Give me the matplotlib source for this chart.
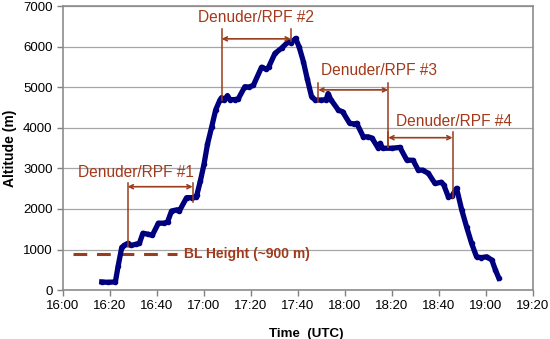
"""Aircraft altitude profile with denuder/RPF sampling periods."""

import matplotlib.pyplot as plt

plt.rcParams["font.family"] = ["Liberation Sans", "DejaVu Sans"]

# flight track: minutes after 16:00 UTC, altitude (m)
MINUTES = [16.5, 19, 22.3, 23.5, 25, 26, 27.5, 29, 31, 32.5, 34, 36, 38, 40.6,
           43, 44.5, 46.2, 48.5, 49.5, 52.6, 55, 56.5, 57, 58.5, 60, 61.5, 63.3,
           65, 66.8, 67.5, 68.5, 70, 71, 73, 74.6, 77.4, 79, 81, 84.5, 86.5,
           87.5, 90.2, 93, 95.9, 97, 99, 100.5, 102.3, 104, 105.8, 107.4, 110,
           112, 112.8, 114, 117.2, 119, 122, 124, 125, 127.8, 130, 131.5, 134.2,
           135, 136, 140, 143.4, 146.3, 149, 151.2, 153, 155.5, 158.3, 161, 162,
           164, 165.5, 167.5, 169.7, 171.8, 173.9, 176, 178, 180.3, 182.5, 184,
           185.5]
ALTITUDE = [200, 190, 200, 600, 1050, 1100, 1150, 1100, 1130, 1150, 1400, 1380,
            1350, 1650, 1650, 1680, 1950, 1980, 1950, 2280, 2280, 2300, 2350,
            2700, 3100, 3600, 4030, 4450, 4690, 4750, 4680, 4800, 4700, 4700,
            4720, 5020, 5010, 5050, 5500, 5450, 5500, 5840, 5970, 6130, 6100,
            6210, 6000, 5640, 5200, 4770, 4690, 4690, 4700, 4850, 4700, 4440,
            4400, 4115, 4100, 4115, 3785, 3780, 3750, 3500, 3620, 3500, 3500,
            3520, 3210, 3200, 2960, 2960, 2880, 2630, 2660, 2600, 2300, 2320,
            2510, 1975, 1550, 1150, 820, 800, 820, 740, 500, 290]

# sampling periods: start, end (minutes), arrow altitude, label
PERIOD_LABELS = ["Denuder/RPF #1", "Denuder/RPF #2", "Denuder/RPF #3", "Denuder/RPF #4"]
PERIOD_START = [27.5, 67.5, 108.6, 138.4]
PERIOD_END = [55.2, 97.0, 138.4, 165.8]
ARROW_ALT = [2550, 6200, 4940, 3760]
# vertical marker extents (bottom, top) for start and end lines
START_LINE = [(1070, 2640), (4690, 6450), (4650, 5100), (3540, 3910)]
END_LINE = [(2180, 2640), (6150, 6450), (3540, 5100), (2260, 3910)]
LABEL_X = [31.1, 82.1, 134.5, 166.4]
LABEL_ALT = [2910, 6720, 5430, 4155]

BL_HEIGHT = 900
BL_RANGE = (4.3, 48.4)

TICK_MINUTES = list(range(0, 201, 20))
TICK_LABELS = ["16:00", "16:20", "16:40", "17:00", "17:20", "17:40",
               "18:00", "18:20", "18:40", "19:00", "19:20"]

LINE_C = "#9a3d1c"
TEXT_C = "#a3391a"

fig = plt.figure(figsize=(5.5, 3.39), dpi=100)
ax = fig.add_axes([0.1145, 0.1445, 0.8545, 0.8365])

ax.plot(MINUTES, ALTITUDE, color="#00007f", lw=3.8, marker="o", ms=3,
        solid_joinstyle="round", zorder=3)

for lab, s, e, a, sl, el, tx, ta in zip(PERIOD_LABELS, PERIOD_START, PERIOD_END,
                                        ARROW_ALT, START_LINE, END_LINE,
                                        LABEL_X, LABEL_ALT):
    ax.plot([s, s], sl, color=LINE_C, lw=1.1, zorder=4)
    ax.plot([e, e], el, color=LINE_C, lw=1.1, zorder=4)
    ax.annotate("", xy=(e, a), xytext=(s, a),
                arrowprops=dict(arrowstyle="<->", color=LINE_C, lw=1.2,
                                mutation_scale=7, shrinkA=0, shrinkB=0),
                zorder=4)
    ax.text(tx, ta, lab, color=TEXT_C, fontsize=11.2,
            ha="center", va="center", zorder=5)

ax.plot(BL_RANGE, [BL_HEIGHT, BL_HEIGHT], color=LINE_C, lw=2.2,
        dashes=(4.5, 3.2), zorder=2)
ax.text(51.5, BL_HEIGHT, "BL Height (~900 m)", color=TEXT_C, fontsize=10,
        fontweight="bold", ha="left", va="center")

ax.set_xlim(0, 200)
ax.set_ylim(0, 7000)
ax.set_xticks(TICK_MINUTES)
ax.set_xticklabels(TICK_LABELS)
ax.set_yticks(range(0, 7001, 1000))
ax.tick_params(labelsize=9.5, colors="#808080", labelcolor="black",
               length=4, width=1)
ax.yaxis.grid(True, color="#a6a6a6", lw=0.9)
ax.set_axisbelow(True)
for sp in ax.spines.values():
    sp.set_color("#8c8c8c")
    sp.set_linewidth(1.2)

ax.set_xlabel("Time  (UTC)", fontsize=9.6, fontweight="bold", labelpad=9)
ax.xaxis.set_label_coords(0.517, -0.135)
ax.set_ylabel("Altitude (m)", fontsize=10, fontweight="bold", labelpad=4)

fig.savefig("out.png", dpi=100)
